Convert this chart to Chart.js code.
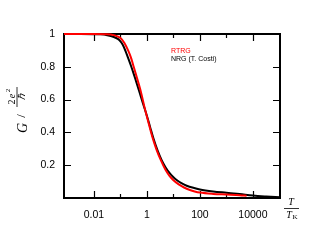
<!DOCTYPE html>
<html>
<head>
<meta charset="utf-8">
<script src="https://cdn.jsdelivr.net/npm/chart.js@4"></script>
<style>
  html, body { margin: 0; padding: 0; background: #fff; }
  #wrap { width: 331px; height: 249px; }
</style>
</head>
<body>
<div id="wrap"><canvas id="grafico"></canvas></div>
<script>
// dados (T/T_K, G em unidades de 2e^2/h)
const nrgT = [0.00074, 0.00316, 0.01, 0.0178, 0.0316, 0.0562, 0.0794, 0.1, 0.126, 0.158, 0.186, 0.251, 0.316, 0.398, 0.513, 0.708, 1, 1.32, 1.74, 2.51, 3.55, 5.01, 7.08, 10, 13.2, 20, 31.6, 56.2, 100, 316, 1000, 3160, 10000, 31600, 105000];
const nrgG = [1.0, 1.0, 0.999, 0.998, 0.993, 0.982, 0.97, 0.955, 0.93, 0.893, 0.862, 0.805, 0.757, 0.706, 0.65, 0.576, 0.5, 0.432, 0.365, 0.29, 0.232, 0.188, 0.153, 0.127, 0.11, 0.09, 0.075, 0.062, 0.052, 0.04, 0.032, 0.024, 0.015, 0.009, 0.004];

const rtrgT = [0.00074, 0.01, 0.0316, 0.0562, 0.1, 0.141, 0.2, 0.251, 0.316, 0.398, 0.589, 0.832, 1.12, 1.58, 2.24, 3.31, 5.01, 7.08, 9.77, 15.8, 25.1, 41.7, 63.1, 100, 316, 1000, 3160, 5750];
const rtrgG = [1.0, 1.0, 0.999, 0.993, 0.975, 0.945, 0.895, 0.854, 0.8, 0.745, 0.648, 0.545, 0.465, 0.375, 0.3, 0.232, 0.172, 0.135, 0.11, 0.083, 0.064, 0.049, 0.04, 0.033, 0.025, 0.021, 0.017, 0.014];

const xTicks = [0.01, 1, 100, 10000];
const xMinorTicks = [0.1, 10, 1000];
const yTicks = [0.2, 0.4, 0.6, 0.8, 1];

// moldura e marcas voltadas para dentro, como no gnuplot
const moldura = {
  id: "moldura",
  beforeDatasetsDraw(chart) {
    const { ctx, chartArea: { left, right, top, bottom }, scales: { x, y } } = chart;
    ctx.save();
    ctx.strokeStyle = "#000";
    ctx.lineWidth = 1.2;
    ctx.beginPath();
    xTicks.forEach(v => {
      const px = Math.round(x.getPixelForValue(v)) + 0.5;
      ctx.moveTo(px, bottom); ctx.lineTo(px, bottom - 7);
      ctx.moveTo(px, top); ctx.lineTo(px, top + 7);
    });
    xMinorTicks.forEach(v => {
      const px = Math.round(x.getPixelForValue(v)) + 0.5;
      ctx.moveTo(px, bottom); ctx.lineTo(px, bottom - 4);
      ctx.moveTo(px, top); ctx.lineTo(px, top + 4);
    });
    yTicks.slice(0, -1).forEach(v => {
      const py = Math.round(y.getPixelForValue(v)) + 0.5;
      ctx.moveTo(left, py); ctx.lineTo(left + 7, py);
      ctx.moveTo(right, py); ctx.lineTo(right - 7, py);
    });
    ctx.stroke();
    ctx.lineWidth = 2;
    ctx.strokeRect(left, top, right - left, bottom - top);
    ctx.restore();
  },
  afterDraw(chart) {
    const { ctx } = chart;
    ctx.save();
    ctx.fillStyle = "#000";
    ctx.strokeStyle = "#000";
    ctx.textBaseline = "middle";

    // legenda
    ctx.textAlign = "left";
    ctx.font = "7px 'Liberation Sans', Arial, sans-serif";
    ctx.fillStyle = "#ff0000";
    ctx.fillText("RTRG", 171, 51);
    ctx.fillStyle = "#000";
    ctx.fillText("NRG (T. Costi)", 171, 59);

    // rótulo do eixo x: T / T_K
    ctx.textAlign = "center";
    ctx.font = "italic 10px 'Liberation Serif', serif";
    ctx.fillText("T", 291, 202);
    ctx.lineWidth = 0.8;
    ctx.beginPath();
    ctx.moveTo(284, 208.5); ctx.lineTo(299, 208.5);
    ctx.stroke();
    ctx.fillText("T", 289, 215);
    ctx.font = "7px 'Liberation Serif', serif";
    ctx.fillText("K", 295, 217);

    // rótulo do eixo y: G / (2e^2/ħ), girado
    ctx.translate(22, 112);
    ctx.rotate(-Math.PI / 2);
    ctx.font = "italic 14px 'Liberation Serif', serif";
    ctx.fillText("G", -16, 1);
    ctx.font = "13px 'Liberation Serif', serif";
    ctx.fillText("/", -4, 0);
    ctx.font = "10px 'Liberation Serif', serif";
    ctx.fillText("2", 10, -10);
    ctx.font = "italic 10px 'Liberation Serif', serif";
    ctx.fillText("e", 16, -10);
    ctx.font = "7px 'Liberation Serif', serif";
    ctx.fillText("2", 21.5, -14);
    ctx.beginPath();
    ctx.moveTo(5, -5); ctx.lineTo(25, -5);
    ctx.stroke();
    ctx.font = "italic 10px 'Liberation Serif', serif";
    ctx.fillText("\u210F", 15, 0.5);
    ctx.restore();
  }
};

window.addEventListener("load", () => {
  const ctx = document.getElementById("grafico").getContext("2d");
  new Chart(ctx, {
    type: "line",
    data: {
      datasets: [
        {
          label: "RTRG",
          data: rtrgT.map((t, i) => ({ x: t, y: rtrgG[i] })),
          borderColor: "#ff0000",
          borderWidth: 2,
          pointRadius: 0,
          cubicInterpolationMode: "monotone",
          clip: false,
          order: 0
        },
        {
          label: "NRG (T. Costi)",
          data: nrgT.map((t, i) => ({ x: t, y: nrgG[i] })),
          borderColor: "#000",
          borderWidth: 2,
          pointRadius: 0,
          cubicInterpolationMode: "monotone",
          clip: false,
          order: 1
        }
      ]
    },
    options: {
      responsive: true,
      maintainAspectRatio: false,
      animation: false,
      layout: { padding: { top: 34, right: 51, left: 0, bottom: 0 } },
      plugins: {
        legend: { display: false },
        tooltip: { enabled: false }
      },
      scales: {
        x: {
          type: "logarithmic",
          min: 0.00074,
          max: 105000,
          afterFit: s => { s.height = 51; },
          afterBuildTicks: s => { s.ticks = xTicks.map(v => ({ value: v })); },
          grid: { display: false, drawTicks: false },
          border: { display: false },
          ticks: {
            padding: 11,
            autoSkip: false,
            maxRotation: 0,
            color: "#000",
            font: { family: "'Liberation Sans', Arial, sans-serif", size: 10.5 },
            callback: v => String(v)
          }
        },
        y: {
          min: 0,
          max: 1,
          afterFit: s => { s.width = 64; },
          afterBuildTicks: s => { s.ticks = yTicks.map(v => ({ value: v })); },
          grid: { display: false, drawTicks: false },
          border: { display: false },
          ticks: {
            padding: 9,
            color: "#000",
            font: { family: "'Liberation Sans', Arial, sans-serif", size: 10.5 },
            callback: v => String(v)
          }
        }
      }
    },
    plugins: [moldura]
  });
});
</script>
</body>
</html>
